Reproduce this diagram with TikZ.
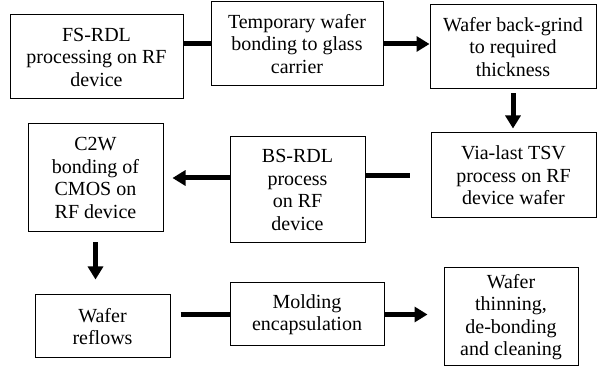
\documentclass[tikz,border=0pt]{standalone}
\usepackage{fontspec}
\setmainfont{Liberation Serif}
\usetikzlibrary{arrows.meta}
\begin{document}
\begin{tikzpicture}[x=1pt,y=-1pt,
    stepbox/.style={draw,line width=1pt,align=center,inner sep=0pt,
        font=\fontsize{20}{22.5}\selectfont},
    flow/.style={line width=5pt},
    flowarrow/.style={line width=5pt,-{Triangle[width=15pt,length=13pt]}}]
    \useasboundingbox (0,0) rectangle (598,379);
    % top row
    \node[stepbox,minimum width=173pt,minimum height=84pt] (fsrdl) at (96.5,57)
        {FS-RDL\\processing on RF\\device};
    \node[stepbox,minimum width=172pt,minimum height=84pt] (tmpbond) at (297,44)
        {Temporary wafer\\bonding to glass\\carrier};
    \node[stepbox,minimum width=166pt,minimum height=84pt] (backgrind) at (513,47)
        {Wafer back-grind\\to required\\thickness};
    % middle row
    \node[stepbox,minimum width=165pt,minimum height=85pt] (tsv) at (513.5,175.5)
        {Via-last TSV\\process on RF\\device wafer};
    \node[stepbox,minimum width=135pt,minimum height=106pt] (bsrdl) at (297.5,190)
        {BS-RDL\\process\\on RF\\device};
    \node[stepbox,minimum width=135pt,minimum height=108pt] (ctow) at (95.5,178)
        {C2W\\bonding of\\CMOS on\\RF device};
    % bottom row
    \node[stepbox,minimum width=135pt,minimum height=63pt] (reflow) at (102.5,326.5)
        {Wafer\\reflows};
    \node[stepbox,minimum width=154pt,minimum height=63pt] (molding) at (307,314.5)
        {Molding\\encapsulation};
    \node[stepbox,minimum width=134pt,minimum height=98pt] (thinning) at (511,317)
        {Wafer\\thinning,\\de-bonding\\and cleaning};
    % connectors
    \draw[flow] (fsrdl.east |- tmpbond) -- (tmpbond.west);
    \draw[flowarrow] (tmpbond.east) -- (tmpbond.east -| backgrind.west);
    \draw[flowarrow,shorten <=4pt,shorten >=4pt] (backgrind.south) -- (backgrind.south |- tsv.north);
    \draw[flow,shorten >=21pt] (bsrdl.east |- tsv) -- (tsv.west);
    \draw[flowarrow,shorten >=9pt] (bsrdl.west |- ctow) -- (ctow.east);
    \draw[flowarrow,shorten <=10pt,shorten >=15pt] (ctow.south) -- (ctow.south |- reflow.north);
    \draw[flow,shorten <=10pt] (reflow.east |- molding) -- (molding.west);
    \draw[flowarrow,shorten >=16pt] (molding.east) -- (molding.east -| thinning.west);
\end{tikzpicture}
\end{document}
